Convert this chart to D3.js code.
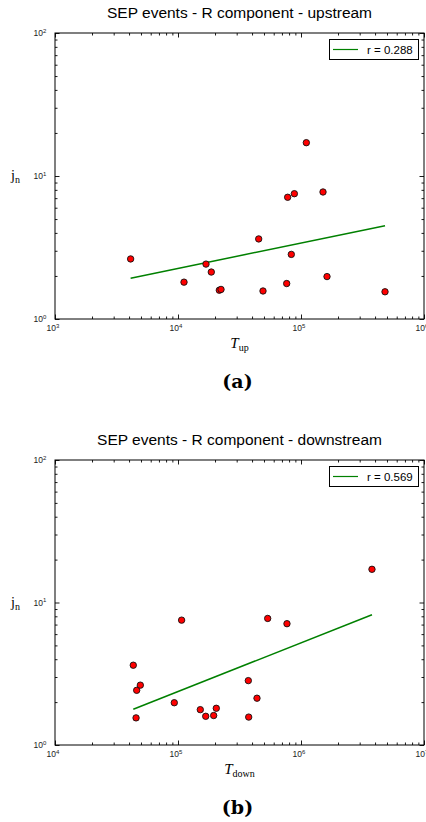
<!DOCTYPE html>
<html>
<head>
<meta charset="utf-8">
<script src="https://cdn.jsdelivr.net/npm/d3@7"></script>
<style>
  html, body { margin: 0; padding: 0; background: #fff; }
  svg { display: block; }
</style>
</head>
<body>
<svg id="chart" width="426" height="822"></svg>
<script>
// Upstream panel: T_up against j_n, one point per SEP event
const upT = [4120, 11190, 16890, 18650, 21670, 22380, 45300, 49100, 76500, 77900, 83400, 88300, 110500, 151000, 162700, 482000];
const upJ = [2.63, 1.81, 2.42, 2.13, 1.59, 1.61, 3.63, 1.57, 1.77, 7.10, 2.83, 7.52, 17.1, 7.73, 1.98, 1.55];

// Downstream panel: T_down against j_n
const downT = [43300, 46150, 49400, 45600, 93300, 107000, 151800, 168000, 195000, 204800, 373000, 375700, 438700, 536000, 769000, 3776000];
const downJ = [3.63, 2.42, 2.63, 1.55, 1.98, 7.52, 1.77, 1.59, 1.61, 1.81, 2.83, 1.57, 2.13, 7.73, 7.10, 17.1];

// Fitted power-law lines (end points)
const fitUpT = [4120, 482000];
const fitUpJ = [1.93, 4.49];
const fitDownT = [43300, 3776000];
const fitDownJ = [1.78, 8.21];

// Axis decades
const upXTicks = [1e3, 1e4, 1e5, 1e6];
const downXTicks = [1e4, 1e5, 1e6, 1e7];
const yTicks = [1, 10, 100];

const panels = [
  { title: "SEP events - R component - upstream", sub: "up", tag: "(a)", legend: "r = 0.288",
    xs: upT, ys: upJ, fitX: fitUpT, fitY: fitUpJ, xTicks: upXTicks, top: 33, bottom: 319 },
  { title: "SEP events - R component - downstream", sub: "down", tag: "(b)", legend: "r = 0.569",
    xs: downT, ys: downJ, fitX: fitDownT, fitY: fitDownJ, xTicks: downXTicks, top: 460, bottom: 745 }
];

const svg = d3.select("#chart");
const left = 55, right = 424;
const sans = "'Liberation Sans', Arial, sans-serif";
const serif = "'Liberation Serif', 'Times New Roman', serif";

function exp10(v) { return Math.round(Math.log10(v)); }
function isMajor(v) { return Math.abs(Math.log10(v) - Math.round(Math.log10(v))) < 1e-9; }

panels.forEach(p => {
  const g = svg.append("g");
  const x = d3.scaleLog().domain([p.xTicks[0], p.xTicks[p.xTicks.length - 1]]).range([left, right]);
  const y = d3.scaleLog().domain([yTicks[0], yTicks[yTicks.length - 1]]).range([p.bottom, p.top]);

  const xMinor = x.ticks().filter(v => !isMajor(v));
  const yMinor = y.ticks().filter(v => !isMajor(v));

  // inward ticks on all four sides
  const axes = [
    [d3.axisBottom(x), xMinor, p.xTicks, `translate(0,${p.bottom})`],
    [d3.axisTop(x), xMinor, p.xTicks, `translate(0,${p.top})`],
    [d3.axisLeft(y), yMinor, yTicks, `translate(${left},0)`],
    [d3.axisRight(y), yMinor, yTicks, `translate(${right},0)`]
  ];
  axes.forEach(([ax, minor, major, tr]) => {
    [[minor, 2.5], [major, 4.5]].forEach(([vals, len]) => {
      const a = g.append("g").attr("transform", tr)
        .call(ax.tickValues(vals).tickSize(-len).tickSizeOuter(0).tickFormat(""));
      a.select(".domain").remove();
      a.selectAll("line").attr("stroke", "#000").attr("stroke-width", 0.9);
    });
  });

  // frame
  g.append("rect")
    .attr("x", left).attr("y", p.top)
    .attr("width", right - left).attr("height", p.bottom - p.top)
    .attr("fill", "none").attr("stroke", "#000").attr("stroke-width", 1);

  // x tick labels, 10^n
  p.xTicks.forEach(v => {
    const t = g.append("text")
      .attr("x", x(v) - 2).attr("y", p.bottom + 12)
      .attr("text-anchor", "middle")
      .attr("font-family", sans).attr("font-size", 8.5).attr("fill", "#222");
    t.append("tspan").text("10");
    t.append("tspan").attr("dy", -3.5).attr("font-size", 6).text(exp10(v));
  });

  // y tick labels, 10^n
  yTicks.forEach(v => {
    const t = g.append("text")
      .attr("x", left - 12).attr("y", y(v) + 3)
      .attr("text-anchor", "end")
      .attr("font-family", sans).attr("font-size", 8.5).attr("fill", "#222");
    t.append("tspan").text("10");
    t.append("tspan").attr("x", left - 12).attr("text-anchor", "start").attr("dy", -3.5).attr("font-size", 6).text(exp10(v));
  });

  // fit line
  const line = d3.line().x(d => x(d[0])).y(d => y(d[1]));
  g.append("path")
    .datum(p.fitX.map((v, i) => [v, p.fitY[i]]))
    .attr("d", line)
    .attr("fill", "none").attr("stroke", "#008000").attr("stroke-width", 1.5);

  // event markers
  g.selectAll("circle.pt")
    .data(p.xs.map((v, i) => [v, p.ys[i]]))
    .join("circle")
    .attr("class", "pt")
    .attr("cx", d => x(d[0])).attr("cy", d => y(d[1]))
    .attr("r", 3.2)
    .attr("fill", "#ff0000").attr("stroke", "#111").attr("stroke-width", 0.9);

  // legend
  const lg = g.append("g");
  lg.append("rect")
    .attr("x", 329.5).attr("y", p.top + 6.5)
    .attr("width", 89).attr("height", 20)
    .attr("fill", "#fff").attr("stroke", "#000").attr("stroke-width", 1);
  lg.append("line")
    .attr("x1", 333).attr("x2", 358)
    .attr("y1", p.top + 16.5).attr("y2", p.top + 16.5)
    .attr("stroke", "#008000").attr("stroke-width", 1.2);
  lg.append("text")
    .attr("x", 367).attr("y", p.top + 20.5)
    .attr("font-family", sans).attr("font-size", 11.5).attr("fill", "#000")
    .text(p.legend);

  // title
  g.append("text")
    .attr("x", (left + right) / 2).attr("y", p.top - 15)
    .attr("text-anchor", "middle")
    .attr("font-family", sans).attr("font-size", 15.5).attr("fill", "#000")
    .text(p.title);

  // y label j_n
  const yl = g.append("text")
    .attr("x", 11).attr("y", (p.top + p.bottom) / 2 + 4)
    .attr("font-family", serif).attr("font-size", 14).attr("fill", "#000");
  yl.append("tspan").text("j");
  yl.append("tspan").attr("dy", 3).attr("font-size", 10).text("n");

  // x label T_sub
  const xl = g.append("text")
    .attr("x", (left + right) / 2).attr("y", p.bottom + 29)
    .attr("text-anchor", "middle")
    .attr("font-family", serif).attr("font-size", 15).attr("fill", "#000");
  xl.append("tspan").attr("font-style", "italic").text("T");
  xl.append("tspan").attr("dy", 3).attr("font-size", 10).text(p.sub);

  // panel tag
  g.append("text")
    .attr("x", (left + right) / 2 - 2).attr("y", p.bottom + 69)
    .attr("text-anchor", "middle")
    .attr("font-family", "'DejaVu Serif', serif").attr("font-weight", "bold").attr("font-size", 19).attr("fill", "#000")
    .text(p.tag);
});
</script>
</body>
</html>
